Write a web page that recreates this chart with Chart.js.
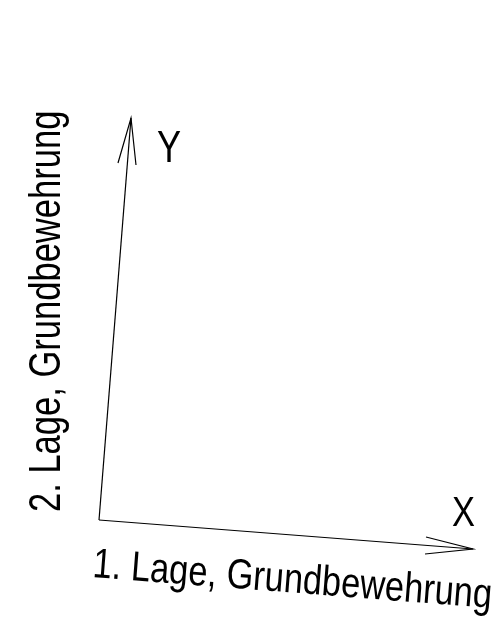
<!DOCTYPE html>
<html>
<head>
<meta charset="utf-8">
<script src="https://cdn.jsdelivr.net/npm/chart.js@4"></script>
<style>
  html, body { margin: 0; padding: 0; background: #fff; }
  #wrap { width: 504px; height: 625px; }
</style>
</head>
<body>
<div id="wrap"><canvas id="axes" width="504" height="625"></canvas></div>
<script>
// drawing units (y up), one unit = one pixel of the sheet
const origin = [99, 105];
const xTip = [473, 76];
const yTip = [131, 507];
const xArrow = [[426, 88], [473, 76], [425, 71]];
const yArrow = [[118, 462], [131, 507], [136, 460]];

const axisLetters = ['X', 'Y'];
const axisTitles = ['1. Lage, Grundbewehrung', '2. Lage, Grundbewehrung'];

const pts = arr => arr.map(p => ({ x: p[0], y: p[1] }));

const lineStyle = {
  showLine: true,
  borderColor: '#000',
  borderWidth: 1.2,
  pointRadius: 0,
  fill: false,
  tension: 0
};

// text labels drawn on top of the scales
const labelsPlugin = {
  id: 'axisLabels',
  afterDraw(chart) {
    const ctx = chart.ctx;
    const sx = chart.scales.x, sy = chart.scales.y;
    const px = v => sx.getPixelForValue(v);
    const py = v => sy.getPixelForValue(v);

    ctx.save();
    ctx.fillStyle = '#000';
    ctx.textBaseline = 'alphabetic';

    // letters at the arrow tips
    ctx.font = '42px "Liberation Sans", Arial, sans-serif';
    ctx.save();
    ctx.translate(px(xTip[0]) - 21, py(xTip[1]) - 23);
    ctx.scale(0.82, 1);
    ctx.fillText(axisLetters[0], 0, 0);
    ctx.restore();

    ctx.font = '44px "Liberation Sans", Arial, sans-serif';
    ctx.save();
    ctx.translate(px(yTip[0]) + 26, py(yTip[1]) + 44);
    ctx.scale(0.82, 1);
    ctx.fillText(axisLetters[1], 0, 0);
    ctx.restore();

    // title along the x axis, same slope
    ctx.font = '42px "Liberation Sans", Arial, sans-serif';
    const ang = Math.atan2(py(xTip[1]) - py(origin[1]), px(xTip[0]) - px(origin[0]));
    ctx.save();
    ctx.translate(px(origin[0]) - 7, py(origin[1]) + 57);
    ctx.rotate(ang);
    ctx.scale(0.82, 1);
    ctx.fillText(axisTitles[0], 0, 0);
    ctx.restore();

    // title beside the y axis
    ctx.font = '44px "Liberation Sans", Arial, sans-serif';
    ctx.save();
    ctx.translate(px(origin[0]) - 39, py(origin[1]) - 8);
    ctx.rotate(-Math.PI / 2);
    ctx.scale(0.785, 1);
    ctx.fillText(axisTitles[1], 0, 0);
    ctx.restore();

    ctx.restore();
  }
};

new Chart(document.getElementById('axes'), {
  type: 'scatter',
  data: {
    datasets: [
      { ...lineStyle, data: pts([origin, xTip]) },
      { ...lineStyle, data: pts([origin, yTip]) },
      { ...lineStyle, data: pts(xArrow) },
      { ...lineStyle, data: pts(yArrow) }
    ]
  },
  options: {
    responsive: false,
    animation: false,
    layout: { padding: 0 },
    plugins: { legend: { display: false }, tooltip: { enabled: false } },
    scales: {
      x: { type: 'linear', display: false, min: 0, max: 504 },
      y: { type: 'linear', display: false, min: 0, max: 625 }
    }
  },
  plugins: [labelsPlugin]
});
</script>
</body>
</html>
